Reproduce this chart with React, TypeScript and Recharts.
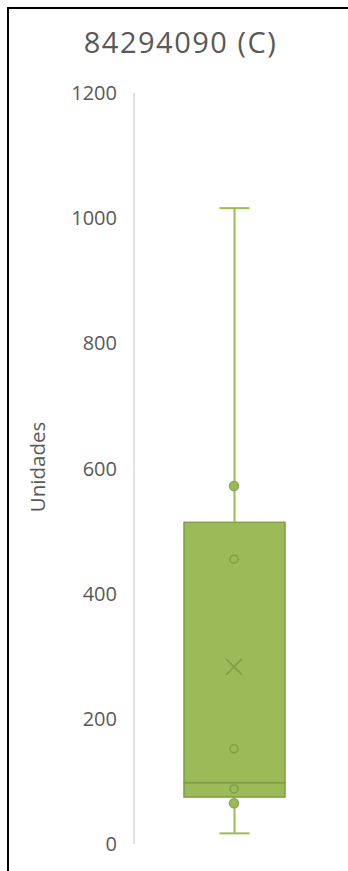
import { ComposedChart, Bar, Scatter, XAxis, YAxis } from 'recharts';

const categories = ['84294090 (C)'];
const minValues = [17];
const q1Values = [75];
const medianValues = [98];
const q3Values = [514];
const maxValues = [1016];
const meanValues = [283];
const hollowPoints = [455, 152, 88];
const filledPoints = [572, 65];
const yTicks = [0, 200, 400, 600, 800, 1000, 1200];

const FILL = '#9BBB59';
const EDGE = '#7F9E45';
const TEXT = '#595959';
const FONT = '"Open Sans", sans-serif';

const data = categories.map((name, i) => {
  const row: Record<string, any> = {
    name,
    base: minValues[i],
    lowWhisker: q1Values[i] - minValues[i],
    boxLow: medianValues[i] - q1Values[i],
    boxHigh: q3Values[i] - medianValues[i],
    highWhisker: maxValues[i] - q3Values[i],
    mean: meanValues[i],
  };
  hollowPoints.forEach((v, j) => { row[`hollow${j}`] = v; });
  filledPoints.forEach((v, j) => { row[`filled${j}`] = v; });
  return row;
});

const Empty = () => <g />;

const LowWhisker = (p: any) => {
  const cx = p.x + p.width / 2;
  const bottom = p.y + p.height;
  return (
    <g>
      <line x1={cx} x2={cx} y1={p.y} y2={bottom} stroke={FILL} strokeWidth={2} />
      <line x1={cx - 15} x2={cx + 15} y1={bottom} y2={bottom} stroke={FILL} strokeWidth={2} />
    </g>
  );
};

const HighWhisker = (p: any) => {
  const cx = p.x + p.width / 2;
  return (
    <g>
      <line x1={cx} x2={cx} y1={p.y} y2={p.y + p.height} stroke={FILL} strokeWidth={2} />
      <line x1={cx - 15} x2={cx + 15} y1={p.y} y2={p.y} stroke={FILL} strokeWidth={2} />
    </g>
  );
};

const BoxPart = (p: any) => (
  <rect x={p.x} y={p.y} width={p.width} height={p.height} fill={FILL} stroke={EDGE} strokeWidth={1.5} />
);

const HollowDot = (p: any) => (
  <circle cx={p.cx} cy={p.cy} r={4} fill="none" stroke={EDGE} strokeWidth={1.5} />
);

const FilledDot = (p: any) => (
  <circle cx={p.cx} cy={p.cy} r={4.5} fill={FILL} stroke="#8AAA50" strokeWidth={1.5} />
);

const MeanMark = (p: any) => (
  <g stroke={EDGE} strokeWidth={1.5}>
    <line x1={p.cx - 8} y1={p.cy - 8} x2={p.cx + 8} y2={p.cy + 8} />
    <line x1={p.cx - 8} y1={p.cy + 8} x2={p.cx + 8} y2={p.cy - 8} />
  </g>
);

export default function App() {
  return (
    <div style={{ position: 'absolute', left: 0, top: 0, width: 348, height: 871, background: '#fff', overflow: 'hidden' }}>
      <div style={{ position: 'absolute', left: 7, top: 7, width: 341, height: 864, borderLeft: '2px solid #000', borderTop: '2px solid #000' }} />
      <div style={{ position: 'absolute', left: 40, top: 22, width: 281, lineHeight: '40px', textAlign: 'center', fontFamily: FONT, fontSize: 29, color: TEXT, letterSpacing: 1.5, whiteSpace: 'nowrap' }}>
        {categories[0]}
      </div>
      <div style={{ position: 'absolute', left: 37 - 60, top: 467 - 14, width: 120, lineHeight: '28px', textAlign: 'center', fontFamily: FONT, fontSize: 20.5, color: TEXT, transform: 'rotate(-90deg)' }}>
        Unidades
      </div>
      <div style={{ position: 'absolute', left: 0, top: 0 }}>
        <ComposedChart width={348} height={871} data={data} margin={{ top: 93, right: 14, bottom: 27, left: 74 }}>
          <XAxis dataKey="name" hide />
          <YAxis
            width={60}
            domain={[0, 1200]}
            ticks={yTicks}
            tickLine={false}
            tickSize={6}
            tickMargin={11}
            axisLine={{ stroke: '#D9D9D9', strokeWidth: 1.5 }}
            tick={{ fill: TEXT, fontSize: 20, fontFamily: FONT }}
          />
          <Bar dataKey="base" stackId="b" barSize={101} shape={Empty} isAnimationActive={false} />
          <Bar dataKey="lowWhisker" stackId="b" barSize={101} shape={LowWhisker} isAnimationActive={false} />
          <Bar dataKey="boxLow" stackId="b" barSize={101} shape={BoxPart} isAnimationActive={false} />
          <Bar dataKey="boxHigh" stackId="b" barSize={101} shape={BoxPart} isAnimationActive={false} />
          <Bar dataKey="highWhisker" stackId="b" barSize={101} shape={HighWhisker} isAnimationActive={false} />
          <Scatter dataKey="mean" shape={MeanMark} isAnimationActive={false} />
          {hollowPoints.map((_, j) => (
            <Scatter key={`h${j}`} dataKey={`hollow${j}`} shape={HollowDot} isAnimationActive={false} />
          ))}
          {filledPoints.map((_, j) => (
            <Scatter key={`f${j}`} dataKey={`filled${j}`} shape={FilledDot} isAnimationActive={false} />
          ))}
        </ComposedChart>
      </div>
    </div>
  );
}
